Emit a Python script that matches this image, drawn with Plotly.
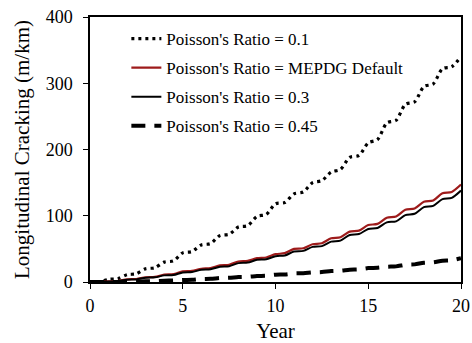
import plotly.graph_objects as go

# Half-year time points (years)
years = [i * 0.5 for i in range(41)]

# Longitudinal cracking (m/km), at half-year steps
pr_01 = [0, 0.5, 4, 5, 11, 12.5, 20, 21.5, 30, 32, 44, 46, 56, 58, 70, 72, 83, 85, 99, 102,
         118, 120, 133, 136, 150, 153, 166, 170, 188, 191, 210, 215, 240, 244, 268, 272,
         295, 299, 322, 325, 340]
pr_mepdg = [0, 0.2, 1, 1.5, 4, 4.5, 7, 7.6, 11, 11.8, 16, 16.7, 20, 21, 25, 26, 31, 32, 36, 37,
            42, 43.5, 50, 51, 57, 58.5, 66, 67.5, 76, 77.5, 86, 87.7, 97, 98.8, 109, 111,
            121, 123, 134, 136, 147]
pr_03 = [0, 0.1, 0.8, 1.2, 3.5, 3.9, 6.5, 7, 10, 10.6, 14.5, 15.1, 18.5, 19.3, 23, 23.8,
         28.5, 29.3, 33.5, 34.3, 39, 40, 46, 47, 53, 54.2, 61, 62.5, 71, 72.4, 80, 81.5,
         90, 91.6, 101, 103, 113, 115, 125, 127, 138]
pr_045 = [0, 0, 0, 0.1, 0.5, 0.6, 1, 1.2, 2, 2.2, 3, 3.3, 4.5, 4.8, 6, 6.3, 7.5, 7.8, 9, 9.4,
          11, 11.4, 13, 13.3, 14.5, 15, 16.5, 17, 18.5, 19, 21, 21.5, 23, 23.6, 26, 26.6,
          29, 29.6, 32, 32.8, 36]

names = ["Poisson's Ratio = 0.1", "Poisson's Ratio = MEPDG Default",
         "Poisson's Ratio = 0.3", "Poisson's Ratio = 0.45"]

x_ticks = [0, 5, 10, 15, 20]
y_ticks = [0, 100, 200, 300, 400]

FONT = "Liberation Serif, Times New Roman, serif"

fig = go.Figure()
series = [
    (pr_01, names[0], dict(color="black", width=3.2, dash="3px,4px")),
    (pr_mepdg, names[1], dict(color="#9e1b1b", width=2.2)),
    (pr_03, names[2], dict(color="black", width=2)),
    (pr_045, names[3], dict(color="black", width=4, dash="14px,9px")),
]
for i, (vals, nm, ln) in enumerate(series):
    fig.add_trace(go.Scatter(x=years, y=vals, mode="lines", name=nm,
                             line=dict(shape="spline", smoothing=0.8, **ln),
                             legendgroup=f"g{i}"))

fig.update_layout(
    width=472, height=343,
    margin=dict(l=90, r=11, t=17, b=61),
    paper_bgcolor="white", plot_bgcolor="white",
    font=dict(family=FONT, size=17, color="black"),
    showlegend=True,
    legend=dict(x=0.098, y=0.985, xanchor="left", yanchor="top",
                bgcolor="rgba(0,0,0,0)", font=dict(family=FONT, size=17, color="black"),
                traceorder="grouped", tracegroupgap=4),
    xaxis=dict(range=[0, 20], tickvals=x_ticks, ticks="outside", ticklen=5,
               tickcolor="black", showline=True, linecolor="black", linewidth=1.5,
               mirror=True, showgrid=False, zeroline=False, automargin=False,
               ticklabelstandoff=2, ticklabeloverflow="allow",
               tickfont=dict(family=FONT, size=18),
               title=dict(text="Year", font=dict(family=FONT, size=21), standoff=14)),
    yaxis=dict(range=[0, 400], tickvals=y_ticks, ticks="outside", ticklen=5,
               tickcolor="black", showline=True, linecolor="black", linewidth=1.5,
               mirror=True, showgrid=False, zeroline=False, automargin=False,
               ticklabelstandoff=7, ticklabeloverflow="allow",
               tickfont=dict(family=FONT, size=18),
               title=dict(text="Longitudinal Cracking (m/km)", font=dict(family=FONT, size=21),
                          standoff=10)),
)

fig.write_html("out.html",
               config={"displayModeBar": False},
               post_script="document.body.style.margin='0';document.body.style.overflow='hidden';")
